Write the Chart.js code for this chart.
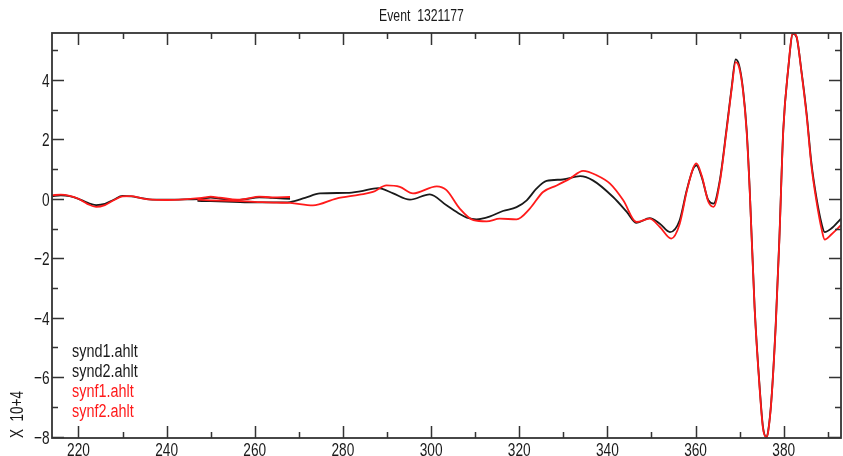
<!DOCTYPE html>
<html>
<head>
<meta charset="utf-8">
<title>Event 1321177</title>
<script src="https://cdn.jsdelivr.net/npm/chart.js@4/dist/chart.umd.min.js"></script>
<style>
  html, body { margin: 0; padding: 0; background: #fff; }
  canvas { display: block; }
</style>
</head>
<body>
<canvas id="trace" width="843" height="456"></canvas>
<script>
// Waveform traces (time, amplitude in units of 10^4)
const synd1Time = [214, 216, 218, 220, 222, 224, 226, 228, 230, 232, 234, 236, 240, 244, 248, 250, 252, 256, 258, 261, 264, 268];
const synd1Amp  = [0.08, 0.12, 0.09, 0.00, -0.13, -0.21, -0.17, -0.03, 0.10, 0.08, 0.03, -0.02, -0.03, -0.02, 0.00, 0.04, 0.01, -0.04, -0.01, 0.05, 0.03, 0.00];

const synf1Time = [214, 216, 218, 220, 222, 224, 226, 228, 230, 232, 234, 236, 240, 244, 248, 250, 252, 256, 258, 261, 264, 268];
const synf1Amp  = [0.12, 0.14, 0.10, 0.00, -0.17, -0.27, -0.21, -0.05, 0.08, 0.09, 0.03, -0.02, -0.04, -0.02, 0.03, 0.07, 0.04, -0.03, 0.00, 0.07, 0.05, 0.06];

const synd2Time = [247, 250, 255, 260, 265, 268, 271.4, 274.8, 280.9, 283.9, 288, 291.4, 295.2, 299.7, 303.5, 306.6, 308.1, 310.3, 313.4, 316.3,
  319.4, 321.7, 323.9, 326.2, 329.9, 333.8, 336.7, 341.3, 344.4, 346.6, 349.6, 351.9, 354.2, 356.4, 358.0, 359.5, 360.2, 361.4, 362.9, 364.1,
  365.5, 367.0, 368.2, 369.1, 369.9, 370.8, 371.6, 372.3, 373.4, 374.6, 375.3, 376.1, 376.5, 377.2, 378.2, 379.0, 379.9, 381.0, 382.1, 382.9,
  384.0, 385.2, 386.3, 387.4, 388.6, 389.3, 390.8, 393];
const synd2Amp  = [-0.07, -0.08, -0.10, -0.12, -0.12, -0.11, 0.03, 0.18, 0.20, 0.25, 0.36, 0.18, -0.03, 0.15, -0.22, -0.52, -0.63, -0.69, -0.59, -0.41,
  -0.28, -0.05, 0.34, 0.60, 0.65, 0.76, 0.62, 0.06, -0.44, -0.81, -0.65, -0.84, -1.12, -0.72, 0.29, 1.02, 1.13, 0.73, -0.05, -0.16,
  0.62, 2.31, 3.76, 4.69, 4.49, 3.65, 2.31, 0.29, -3.64, -6.45, -7.68, -8.02, -7.79, -6.78, -4.20, -1.40, 2.31, 4.33, 5.56, 5.45,
  4.33, 2.87, 1.19, 0.06, -0.84, -1.12, -1.00, -0.67];

const synf2Time = [247, 250, 255, 260, 265, 268, 273.2, 278.5, 283.8, 286.8, 289.9, 292.9, 295.9, 301.3, 303.5, 306.5, 309.6, 312.6, 315.6, 319.4,
  322.4, 325.4, 328.5, 331.5, 334.5, 337.6, 340.6, 343.6, 346.6, 349.6, 351.9, 354.5, 356.4, 358.0, 359.5, 360.2, 361.4, 362.9, 364.1, 365.5,
  367.0, 368.2, 369.1, 369.9, 370.8, 371.6, 372.3, 373.4, 374.6, 375.3, 376.1, 376.5, 377.2, 378.2, 379.0, 379.9, 381.0, 382.1, 382.9, 384.0,
  385.2, 386.3, 387.4, 388.6, 389.3, 390.8, 393];
const synf2Amp  = [-0.03, -0.05, -0.07, -0.10, -0.13, -0.14, -0.22, 0.01, 0.14, 0.23, 0.45, 0.40, 0.18, 0.42, 0.29, -0.33, -0.72, -0.76, -0.67, -0.69,
  -0.33, 0.23, 0.45, 0.68, 0.94, 0.79, 0.51, -0.05, -0.78, -0.67, -0.95, -1.34, -0.85, 0.25, 1.05, 1.19, 0.78, -0.10, -0.27, 0.55,
  2.25, 3.70, 4.60, 4.42, 3.60, 2.25, 0.25, -3.68, -6.50, -7.72, -8.03, -7.82, -6.80, -4.25, -1.45, 2.28, 4.35, 5.58, 5.47, 4.30,
  2.80, 1.10, -0.05, -1.02, -1.37, -1.20, -0.89];

// Axis ticks
const xMajorTicks = [220, 240, 260, 280, 300, 320, 340, 360, 380];
const xMinorTicks = [230, 250, 270, 290, 310, 330, 350, 370, 390];
const yMajorTicks = [-8, -6, -4, -2, 0, 2, 4];
const yMinorTicks = [-7, -5, -3, -1, 1, 3, 5];

const titleText = 'Event  1321177';
const unitText = 'X  10+4';
const legendNames = ['synd1.ahlt', 'synd2.ahlt', 'synf1.ahlt', 'synf2.ahlt'];

const FONT = '"Liberation Sans", Arial, sans-serif';
const BLACK = '#1a1a1a';
const RED = '#ff1a1a';
const AXIS = '#333333';
const legendColors = [BLACK, BLACK, RED, RED];

const toPoints = (t, a) => t.map((v, i) => ({ x: v, y: a[i] }));

const lineStyle = (color) => ({
  borderColor: color,
  borderWidth: 1.8,
  pointRadius: 0,
  fill: false,
  cubicInterpolationMode: 'monotone'
});

const fmtTick = (v) => (v < 0 ? '\u2212' + Math.abs(v) : String(v));

// tall, narrow lettering: text squeezed horizontally around its anchor
function narrowText(ctx, text, x, y, opts) {
  ctx.save();
  ctx.translate(x, y);
  if (opts.rotate) ctx.rotate(opts.rotate);
  ctx.scale(opts.squeeze, 1);
  ctx.font = opts.size + 'px ' + FONT;
  ctx.fillStyle = opts.color || BLACK;
  ctx.textAlign = opts.align || 'left';
  ctx.textBaseline = 'alphabetic';
  ctx.fillText(text, 0, 0);
  ctx.restore();
}

// Frame, inward-pointing ticks on all four sides, and the lettering
const frameTicks = {
  id: 'frameTicks',
  afterDatasetsDraw(chart) {
    const { ctx, chartArea: a, scales: { x, y } } = chart;
    ctx.save();
    ctx.strokeStyle = AXIS;
    ctx.lineWidth = 1.5;
    ctx.beginPath();
    const vTick = (v, len) => {
      const px = Math.round(x.getPixelForValue(v)) + 0.5;
      ctx.moveTo(px, a.bottom); ctx.lineTo(px, a.bottom - len);
      ctx.moveTo(px, a.top); ctx.lineTo(px, a.top + len);
    };
    const hTick = (v, len) => {
      const py = Math.round(y.getPixelForValue(v)) + 0.5;
      ctx.moveTo(a.left, py); ctx.lineTo(a.left + len, py);
      ctx.moveTo(a.right, py); ctx.lineTo(a.right - len, py);
    };
    xMajorTicks.forEach(v => vTick(v, 12));
    xMinorTicks.forEach(v => vTick(v, 6));
    yMajorTicks.forEach(v => hTick(v, 12));
    yMinorTicks.forEach(v => hTick(v, 6));
    ctx.stroke();
    ctx.lineWidth = 1.8;
    ctx.strokeRect(a.left, a.top, a.right - a.left, a.bottom - a.top);
    ctx.restore();
  },
  afterDraw(chart) {
    const { ctx, chartArea: a, scales: { x, y } } = chart;
    // tick labels
    xMajorTicks.forEach(v => narrowText(ctx, fmtTick(v), x.getPixelForValue(v), 455.5, { size: 19, squeeze: 0.72, align: 'center' }));
    yMajorTicks.forEach(v => narrowText(ctx, fmtTick(v), a.left - 2.5, y.getPixelForValue(v) + 7, { size: 19, squeeze: 0.72, align: 'right' }));
    // title
    narrowText(ctx, titleText, 421.5, 21, { size: 17, squeeze: 0.72, align: 'center' });
    // series names
    legendNames.forEach((name, i) => narrowText(ctx, name, 72, 357 + i * 20, { size: 18, squeeze: 0.8, color: legendColors[i] }));
    // amplitude unit, written up the left edge
    narrowText(ctx, unitText, 23, 438, { size: 18, squeeze: 0.75, rotate: -Math.PI / 2 });
  }
};

new Chart(document.getElementById('trace'), {
  type: 'line',
  data: {
    datasets: [
      { label: legendNames[2], data: toPoints(synf1Time, synf1Amp), ...lineStyle(RED) },
      { label: legendNames[3], data: toPoints(synf2Time, synf2Amp), ...lineStyle(RED) },
      { label: legendNames[0], data: toPoints(synd1Time, synd1Amp), ...lineStyle(BLACK) },
      { label: legendNames[1], data: toPoints(synd2Time, synd2Amp), ...lineStyle(BLACK) }
    ]
  },
  options: {
    responsive: false,
    animation: false,
    events: [],
    layout: { padding: { top: 33, right: 2, left: 0, bottom: 0 } },
    plugins: { legend: { display: false }, title: { display: false }, tooltip: { enabled: false } },
    scales: {
      x: {
        type: 'linear',
        min: 214,
        max: 393,
        grid: { display: false, drawTicks: false },
        border: { display: false },
        afterBuildTicks: (s) => { s.ticks = xMajorTicks.map(v => ({ value: v })); },
        afterFit: (s) => { s.height = 18; },
        ticks: { display: false }
      },
      y: {
        type: 'linear',
        min: -8.05,
        max: 5.58,
        grid: { display: false, drawTicks: false },
        border: { display: false },
        afterBuildTicks: (s) => { s.ticks = yMajorTicks.map(v => ({ value: v })); },
        afterFit: (s) => { s.width = 52; },
        ticks: { display: false }
      }
    }
  },
  plugins: [frameTicks]
});
</script>
</body>
</html>
